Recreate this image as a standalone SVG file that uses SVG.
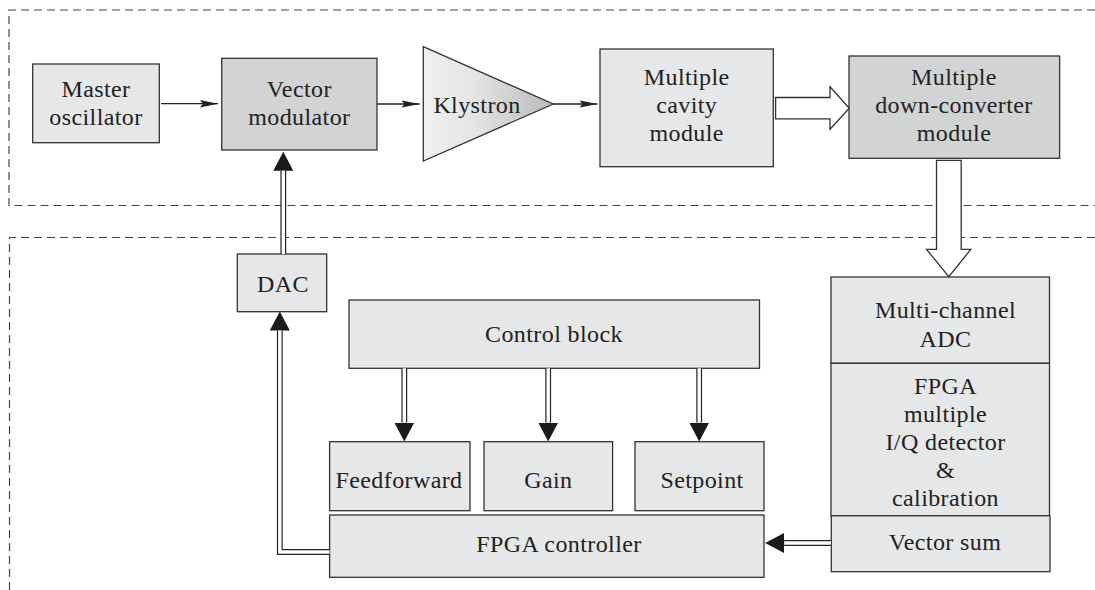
<svg xmlns="http://www.w3.org/2000/svg" width="1095" height="590" viewBox="0 0 1095 590">
<style>
.box{fill:#e6e7e8;stroke:#333;stroke-width:1.3}
.dark{fill:#d2d3d5}
.frame{fill:none;stroke:#444;stroke-width:1.2;stroke-dasharray:8 5}
.t{font-family:'Liberation Serif','Times New Roman',serif;font-size:24px;letter-spacing:0.4px;fill:#222;text-anchor:middle}
.thin{fill:none;stroke:#222;stroke-width:1.3}
.dbo{fill:none;stroke:#222;stroke-width:5.8;stroke-linejoin:miter}
.dbi{fill:none;stroke:#fff;stroke-width:3.4;stroke-linejoin:miter}
.hollow{fill:#fff;stroke:#333;stroke-width:1.3;stroke-linejoin:miter}
</style>
<defs>
<marker id="ah" markerUnits="userSpaceOnUse" viewBox="0 0 18 8" refX="18" refY="4" markerWidth="18" markerHeight="8" orient="auto">
<path d="M0,0.3 L18,4 L0,7.7 L3,4 Z" fill="#222"/>
</marker>
<marker id="dh" markerUnits="userSpaceOnUse" viewBox="0 0 19 20" refX="0" refY="10" markerWidth="19" markerHeight="20" orient="auto">
<path d="M0,0 L19,10 L0,20 Z" fill="#1a1a1a"/>
</marker>
<linearGradient id="kg" x1="0" y1="0" x2="1" y2="0">
<stop offset="0" stop-color="#f0f0f0"/>
<stop offset="0.4" stop-color="#e4e4e4"/>
<stop offset="1" stop-color="#b9b9b9"/>
</linearGradient>
</defs>

<g id="frames">
<path class="frame" d="M1095,10 H9 V205.5 H1095"/>
<path class="frame" d="M1095,237.5 H9.5 V590"/>
</g>

<g id="master-oscillator">
<rect class="box" x="32.7" y="64" width="126.6" height="78.7"/>
<text class="t" x="96" y="96.7">Master</text>
<text class="t" x="96" y="125">oscillator</text>
</g>

<g id="vector-modulator">
<rect class="box dark" x="221.7" y="58.3" width="155.3" height="91.7"/>
<text class="t" x="299.3" y="96.7">Vector</text>
<text class="t" x="299.3" y="125">modulator</text>
</g>

<g id="klystron">
<polygon points="423.3,46.7 553.3,104 423.3,161" fill="url(#kg)" stroke="#333" stroke-width="1.3"/>
<text class="t" x="477" y="112.7">Klystron</text>
</g>

<g id="multiple-cavity-module">
<rect class="box" x="600" y="49" width="173.3" height="117.7"/>
<text class="t" x="686.7" y="85">Multiple</text>
<text class="t" x="686.7" y="113">cavity</text>
<text class="t" x="686.7" y="140.7">module</text>
</g>

<g id="multiple-down-converter-module">
<rect class="box dark" x="849" y="56" width="210.6" height="102.3"/>
<text class="t" x="954" y="85">Multiple</text>
<text class="t" x="954" y="113">down-converter</text>
<text class="t" x="954" y="140.7">module</text>
</g>

<g id="dac">
<rect class="box" x="237.3" y="254" width="89.4" height="57.7"/>
<text class="t" x="283" y="292.3">DAC</text>
</g>

<g id="control-block">
<rect class="box" x="349" y="300" width="410.5" height="68.3"/>
<text class="t" x="554" y="341.7">Control block</text>
</g>

<g id="feedforward">
<rect class="box" x="329.6" y="441.7" width="140.4" height="69"/>
<text class="t" x="399" y="488.3">Feedforward</text>
</g>

<g id="gain">
<rect class="box" x="484" y="441.7" width="128.6" height="69"/>
<text class="t" x="548.3" y="488.3">Gain</text>
</g>

<g id="setpoint">
<rect class="box" x="635" y="441.7" width="129" height="69"/>
<text class="t" x="702" y="488.3">Setpoint</text>
</g>

<g id="fpga-controller">
<rect class="box" x="329.6" y="515" width="434.4" height="62.3"/>
<text class="t" x="559" y="551.7">FPGA controller</text>
</g>

<g id="multi-channel-adc">
<rect class="box" x="831" y="277" width="218.5" height="86.3"/>
<text class="t" x="945.5" y="318.3">Multi-channel</text>
<text class="t" x="945.5" y="346.5">ADC</text>
</g>

<g id="fpga-iq-detector">
<rect class="box" x="831" y="363.3" width="218.5" height="152.5"/>
<text class="t" x="945.5" y="394">FPGA</text>
<text class="t" x="945.5" y="422">multiple</text>
<text class="t" x="945.5" y="450">I/Q detector</text>
<text class="t" x="945.5" y="478">&amp;</text>
<text class="t" x="945.5" y="505.5">calibration</text>
</g>

<g id="vector-sum">
<rect class="box" x="831.3" y="515.8" width="218.7" height="55.9"/>
<text class="t" x="945" y="550">Vector sum</text>
</g>

<g id="connectors">
<line class="thin" x1="161" y1="103.7" x2="218" y2="103.7" marker-end="url(#ah)"/>
<line class="thin" x1="377" y1="104" x2="419.5" y2="104" marker-end="url(#ah)"/>
<line class="thin" x1="553.3" y1="104" x2="597.5" y2="104" marker-end="url(#ah)"/>
<polygon class="hollow" points="775.6,97.5 830,97.5 830,86.8 849.3,108.3 830,129.3 830,118.8 775.6,118.8"/>
<polygon class="hollow" points="936.5,160.3 936.5,249.3 926.5,249.3 948.8,276.7 970.8,249.3 961.2,249.3 961.2,160.3"/>

<path class="dbo" d="M283.3,254 V170.7" marker-end="url(#dh)"/>
<path class="dbi" d="M283.3,254 V170.7"/>

<path class="dbo" d="M329.6,552 H279.8 V330.5" marker-end="url(#dh)"/>
<path class="dbi" d="M329.6,552 H279.8 V330.5"/>

<path class="dbo" d="M404.3,368.3 V422.5" marker-end="url(#dh)"/>
<path class="dbi" d="M404.3,368.3 V422.5"/>

<path class="dbo" d="M548.2,368.3 V422.5" marker-end="url(#dh)"/>
<path class="dbi" d="M548.2,368.3 V422.5"/>

<path class="dbo" d="M699.2,368.3 V422.5" marker-end="url(#dh)"/>
<path class="dbi" d="M699.2,368.3 V422.5"/>

<path class="dbo" d="M831,543 H784.2" marker-end="url(#dh)"/>
<path class="dbi" d="M831,543 H784.2"/>
</g>
</svg>
